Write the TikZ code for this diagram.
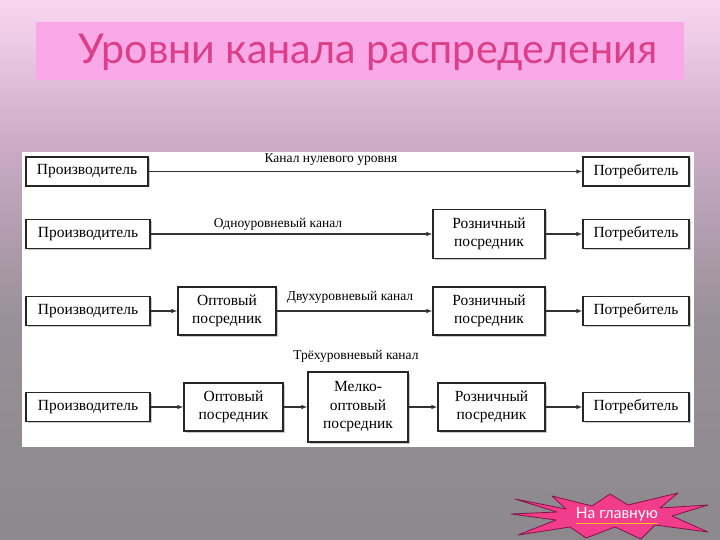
\documentclass[tikz,border=0pt]{standalone}
\usepackage{fontspec}
\setmainfont{Liberation Serif}
\newfontfamily\titlefont{Lato}
\usetikzlibrary{arrows.meta,shadows}
\definecolor{bgtop}{RGB}{250,214,240}
\definecolor{bgmid}{RGB}{205,172,200}
\definecolor{bglow}{RGB}{152,144,152}
\definecolor{bgbot}{RGB}{140,137,141}
\definecolor{titlebox}{RGB}{249,168,232}
\definecolor{titletext}{RGB}{220,62,136}
\definecolor{burst}{RGB}{242,60,140}
\definecolor{burstline}{RGB}{130,20,70}
\definecolor{lnk}{RGB}{245,190,40}
\tikzset{
  boxnode/.style={draw=black!85,line width=1.2pt,fill=white,inner sep=2pt,align=center,
    font=\fontsize{15.5}{18.5}\selectfont,
    drop shadow={shadow xshift=1.5pt,shadow yshift=-1.5pt,fill=black!35,opacity=0.6}},
  lbl/.style={font=\fontsize{13.5}{15}\selectfont,inner sep=1pt},
  arr/.style={draw=black!80,line width=1.1pt,-{Latex[length=6pt,width=4.5pt]}},
  ttl/.style={font=\titlefont\fontsize{41.2}{45}\selectfont,inner sep=0pt}
}
\begin{document}
\begin{tikzpicture}[x=1pt,y=-1pt]
\useasboundingbox (0,0) rectangle (720,540);
% background
\fill[top color=bgtop,bottom color=bgmid] (0,0) rectangle (720,140);
\fill[top color=bgmid,bottom color=bglow] (0,139.5) rectangle (720,320);
\fill[top color=bglow,bottom color=bgbot] (0,319.5) rectangle (720,540);
% title
\fill[titlebox] (36,22) rectangle (684,80);
\node[ttl,text=titletext] (title) at (368,52) {Уровни канала распределения};
% panel
\fill[white] (22,152) rectangle (694,447);
% row 1
\node[boxnode,minimum width=122pt,minimum height=29pt] (p1) at (87,171.5) {Производитель};
\node[boxnode,minimum width=106pt,minimum height=29pt] (c1) at (636,171.5) {Потребитель};
\draw[arr] (p1) -- (c1);
\node[lbl] (l1) at (331,160) {Канал нулевого уровня};
% row 2
\node[boxnode,minimum width=124pt,minimum height=29pt] (p2) at (88,234) {Производитель};
\node[boxnode,minimum width=112pt,minimum height=49pt] (r2) at (489,234) {Розничный\\посредник};
\node[boxnode,minimum width=106pt,minimum height=29pt] (c2) at (636,234) {Потребитель};
\draw[arr] (p2) -- (r2);
\draw[arr] (r2) -- (c2);
\node[lbl] (l2) at (278,224) {Одноуровневый канал};
% row 3
\node[boxnode,minimum width=124pt,minimum height=29pt] (p3) at (88,311) {Производитель};
\node[boxnode,minimum width=98pt,minimum height=48pt] (o3) at (227,311) {Оптовый\\посредник};
\node[boxnode,minimum width=112pt,minimum height=48pt] (r3) at (489,311) {Розничный\\посредник};
\node[boxnode,minimum width=106pt,minimum height=29pt] (c3) at (636,311) {Потребитель};
\draw[arr] (p3) -- (o3);
\draw[arr] (o3) -- (r3);
\draw[arr] (r3) -- (c3);
\node[lbl] (l3) at (350,297) {Двухуровневый канал};
% row 4
\node[lbl] (l4) at (356,356) {Трёхуровневый канал};
\node[boxnode,minimum width=124pt,minimum height=29pt] (p4) at (88,407) {Производитель};
\node[boxnode,minimum width=99pt,minimum height=48pt] (o4) at (233.5,407) {Оптовый\\посредник};
\node[boxnode,minimum width=100pt,minimum height=70pt] (m4) at (358,407) {Мелко-\\оптовый\\посредник};
\node[boxnode,minimum width=107pt,minimum height=48pt] (r4) at (491.5,407) {Розничный\\посредник};
\node[boxnode,minimum width=106pt,minimum height=29pt] (c4) at (636,407) {Потребитель};
\draw[arr] (p4) -- (o4);
\draw[arr] (o4) -- (m4);
\draw[arr] (m4) -- (r4);
\draw[arr] (r4) -- (c4);
% button
\draw[fill=burst,draw=burstline,line width=0.8pt,line join=round]
  (515,499) -- (566,509) -- (552,496) -- (592,506) -- (610,494) -- (628,505)
  -- (678,493) -- (660,508) -- (708,505) -- (672,516) -- (708,532) -- (655,525)
  -- (641,539) -- (615,527) -- (586,538) -- (570,527) -- (518,535) -- (556,520)
  -- (511,514) -- (557,512) -- cycle;
\node[text=white,font=\titlefont\fontsize{15.5}{17}\selectfont,inner sep=0pt] (home) at (617,514) {На главную};
\draw[lnk,line width=1pt] ([yshift=-2pt]home.south west) -- ([yshift=-2pt]home.south east);
\end{tikzpicture}
\end{document}
